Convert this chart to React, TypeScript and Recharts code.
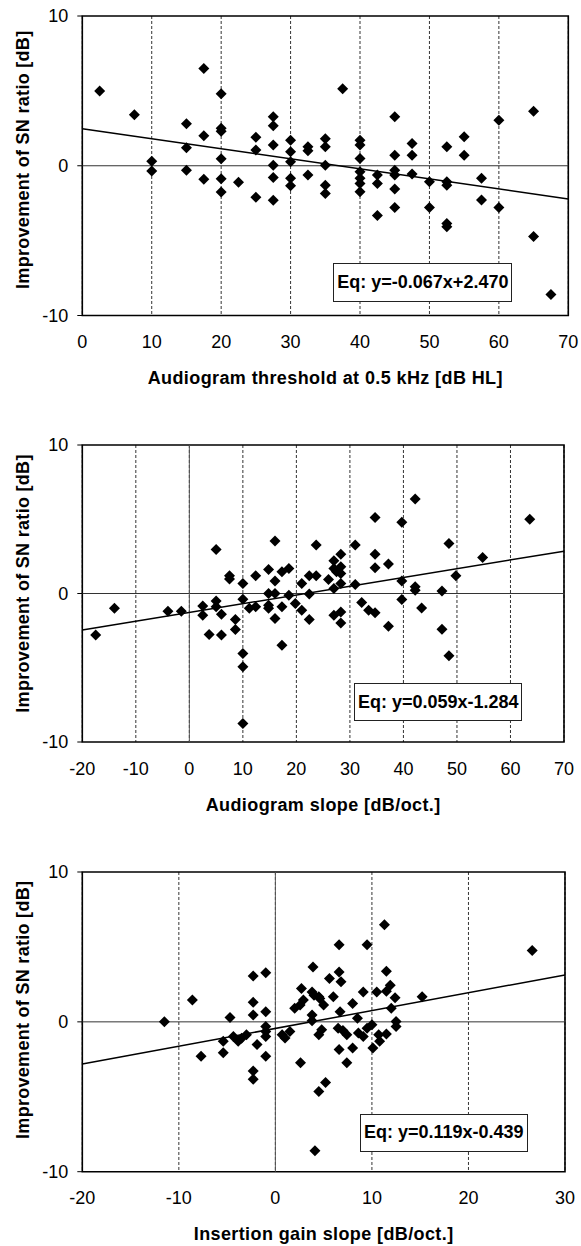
import React from 'react';
import { ComposedChart, Scatter, XAxis, YAxis, CartesianGrid, ReferenceLine, ReferenceArea } from 'recharts';

const FONT = '"Liberation Sans", Arial, Helvetica, sans-serif';

// ---------- Panel 1: Audiogram threshold at 0.5 kHz ----------
const threshX = [2.5, 7.5, 10, 10, 15, 15, 15, 17.5, 17.5, 17.5, 20, 20, 20, 20, 20, 20, 22.5, 25, 25, 25,
  27.5, 27.5, 27.5, 27.5, 27.5, 27.5, 30, 30, 30, 30, 30, 32.5, 32.5, 32.5, 35, 35, 35, 35, 35, 37.5,
  40, 40, 40, 40, 40, 40, 40, 42.5, 42.5, 42.5, 45, 45, 45, 45, 45, 45, 47.5, 47.5, 47.5, 50, 50,
  52.5, 52.5, 52.5, 52.5, 52.5, 55, 55, 57.5, 57.5, 60, 60, 65, 65, 67.5];
const threshY = [5.0, 3.4, 0.3, -0.35, 2.8, 1.2, -0.3, 6.5, 2.0, -0.9, 4.8, 2.5, 2.3, 0.47, -0.87, -1.75, -1.1, 1.9, 1.05, -2.1,
  3.27, 2.67, 1.38, 0.04, -0.78, -2.3, 1.7, 0.93, 0.27, -0.84, -1.33, 1.27, 1.0, -0.62, 1.8, 1.27, 0.04, -1.3, -1.85, 5.15,
  1.7, 1.38, 0.49, -0.4, -0.84, -1.18, -1.73, -0.62, -1.18, -3.33, 3.27, 0.7, -0.3, -0.62, -1.55, -2.78, 1.49, 0.7, -0.55, -1.07, -2.78,
  1.27, -1.07, -1.3, -3.85, -4.07, 1.93, 0.7, -0.84, -2.29, 3.04, -2.78, 3.64, -4.73, -8.6];
const threshTicks = [0, 10, 20, 30, 40, 50, 60, 70];
const threshTrendX = [0, 70];
const threshTrendY = [2.47, -2.22];

// ---------- Panel 2: Audiogram slope ----------
const slopeX = [-17.5, -14, -4, -1.5, 2.5, 2.5, 3.7, 5, 5, 5, 6, 6, 7.5, 7.5, 8.6, 8.6, 10, 10, 10, 10, 10,
  11.2, 12.4, 12.4, 14.8, 14.8, 14.8, 14.8, 16, 16, 16, 16, 17.3, 17.3, 17.3, 18.6, 18.6, 19.8,
  21, 21, 22.4, 22.4, 22.4, 23.7, 23.7, 26, 27, 27, 27.5, 28.3, 28.3, 28.3, 28.3, 27, 27, 28.3, 28.3,
  31, 31, 32.2, 33.5, 34.7, 34.7, 34.7, 34.7, 37.2, 37.2, 39.7, 39.7, 39.7, 42.2, 42.2, 42.2, 43.4,
  47.2, 47.2, 48.5, 48.5, 49.8, 54.8, 63.6];
const slopeY = [-2.8, -1.0, -1.2, -1.2, -0.85, -1.46, -2.76, 2.97, -0.5, -0.9, -1.4, -2.8, 1.19, 0.97, -1.75, -2.43, 0.67, -0.38, -4.04, -4.94, -8.75,
  -1.0, 1.19, -0.9, 1.62, 0, -0.79, -1.0, 3.53, 0.85, 0, -1.69, 1.46, -0.9, -3.48, 1.69, -0.11, -0.67,
  0.67, -1.12, 1.19, -0.04, -1.75, 3.26, 1.19, 0.94, 2.2, 1.69, 1.46, 1.8, 2.65, 1.35, 0.67, 0.34, -1.46, -1.24, -1.98,
  3.26, 0.6, -0.6, -1.12, 5.12, 2.65, 1.73, -1.3, 1.98, -2.2, 4.79, 0.85, -0.4, 6.36, 0.45, 0.22, -0.97,
  0.16, -2.4, 3.37, -4.2, 1.19, 2.43, 5.0];
const slopeTicks = [-20, -10, 0, 10, 20, 30, 40, 50, 60, 70];
const slopeTrendX = [-20, 70];
const slopeTrendY = [-2.46, 2.85];

// ---------- Panel 3: Insertion gain slope ----------
const gainX = [-11.5, -8.6, -7.7, -5.4, -5.4, -4.7, -4.35, -3.85, -3.5, -3.0, -2.3, -2.3, -2.3, -2.3, -2.3, -1.9,
  -1, -1, -1, -1, -1, -1, 0.7, 1, 1.5, 2.0, 2.56, 2.9, 2.7, 2.6, 3.8, 3.9, 3.8, 3.8, 4.0, 4.5, 4.6, 5.0,
  4.5, 4.8, 4.5, 5.2, 5.6, 6.0, 6.6, 6.6, 6.8, 6.7, 6.5, 7.0, 6.6, 7.4, 8.0, 7.4, 8.0, 8.5, 8.6, 9.1, 9.1,
  9.5, 9.5, 10.0, 10.1, 10.5, 10.7, 10.8, 11.3, 11.5, 11.5, 11.5, 11.9, 12.0, 12.4, 12.5, 12.5, 15.2, 26.6, 4.1];
const gainY = [0, 1.45, -2.3, -1.3, -2.07, 0.29, -0.97, -1.3, -1.1, -0.86, 3.06, 1.3, 0.46, -3.28, -3.83, -1.52,
  3.28, 0.68, -0.31, -0.64, -0.97, -2.29, -0.86, -1.08, -0.64, 0.9, 1.12, 1.45, 2.22, -2.73, 2.0, 3.66, 0.46, 0.07, 1.78, 1.67, 1.56, 1.12,
  -0.86, -0.53, -4.65, -4.05, 2.89, 1.67, 5.15, 3.33, 2.67, 0.68, -0.42, -0.57, -1.85, -0.86, -1.74, -2.73, 1.23, 0.24, -0.75, 2.0, -0.97,
  5.15, -0.42, -0.2, -1.74, 2.0, -0.86, -1.3, 6.48, 3.37, -0.81, 2.05, 2.44, 0.9, 1.6, 0.02, -0.31, 1.67, 4.76, -8.6];
const gainTicks = [-20, -10, 0, 10, 20, 30];
const gainTrendX = [-20, 30];
const gainTrendY = [-2.82, 3.13];

const yTicks = [-10, 0, 10];
const yTitle = 'Improvement of SN ratio [dB]';

const zip = (xs: number[], ys: number[]) => xs.map((x, i) => ({ x, y: ys[i] }));

const Diamond = (props: any) => {
  const { cx, cy } = props;
  if (cx == null || cy == null) return <g />;
  const r = 5.5;
  return <path d={`M${cx},${cy - r}L${cx + r},${cy}L${cx},${cy + r}L${cx - r},${cy}Z`} fill="#000" />;
};
const NoShape = () => <g />;

const W = 581;
const PLOT_LEFT = 82.3;
const TOP_PAD = 16;
const BOTTOM_PAD = 76;

type PanelProps = {
  xs: number[]; ys: number[]; trendX: number[]; trendY: number[]; ticks: number[];
  xTitle: string; eq: string;
  plotTop: number; plotBottom: number; plotRight: number;
  eqBox: { left: number; top: number; width: number; height: number };
  yTitleOffset: number; zeroX: boolean;
};

function Panel(p: PanelProps) {
  const plotH = p.plotBottom - p.plotTop;
  const H = TOP_PAD + plotH + BOTTOM_PAD;
  const divTop = p.plotTop - TOP_PAD;
  const xMin = p.ticks[0];
  const xMax = p.ticks[p.ticks.length - 1];
  const pts = zip(p.xs, p.ys);
  const trend = zip(p.trendX, p.trendY);
  const xTitleX = (PLOT_LEFT + p.plotRight) / 2;
  const xTitleY = TOP_PAD + plotH + 68.5;
  const yTitleX = 28.5;
  const yTitleY = TOP_PAD + plotH / 2 + p.yTitleOffset;
  const tickStyle = { fill: '#000', fontSize: 18, fontFamily: FONT };
  return (
    <div style={{ position: 'absolute', left: 0, top: divTop, width: W, height: H }}>
      <ComposedChart width={W} height={H} margin={{ top: TOP_PAD, right: W - p.plotRight, bottom: 0, left: 0 }}>
        <CartesianGrid vertical horizontal={false} stroke="#333" strokeDasharray="3 2" />
        <XAxis
          type="number" dataKey="x" domain={[xMin, xMax]} ticks={p.ticks} interval={0}
          tick={tickStyle} tickLine={false} axisLine={false} tickSize={0} tickMargin={20}
          height={BOTTOM_PAD}
          label={{
            content: () => (
              <text x={xTitleX} y={xTitleY} textAnchor="middle" fontFamily={FONT} fontSize={18}
                fontWeight="bold" letterSpacing={0.4} fill="#000">{p.xTitle}</text>
            ),
          }}
        />
        <YAxis
          type="number" dataKey="y" domain={[-10, 10]} ticks={yTicks} interval={0}
          width={PLOT_LEFT} tick={tickStyle} tickLine={{ stroke: '#000' }} tickSize={5} tickMargin={9}
          axisLine={false}
          label={{
            content: () => (
              <text x={yTitleX} y={yTitleY} textAnchor="middle" fontFamily={FONT} fontSize={18}
                fontWeight="bold" letterSpacing={0.3} fill="#000"
                transform={`rotate(-90 ${yTitleX} ${yTitleY})`}>{yTitle}</text>
            ),
          }}
        />
        <ReferenceLine y={0} stroke="#333" strokeWidth={1} />
        {p.zeroX ? <ReferenceLine x={0} stroke="#555" strokeWidth={1} /> : null}
        <ReferenceArea x1={xMin} x2={xMax} y1={-10} y2={10} fill="none" fillOpacity={0} stroke="#000" strokeWidth={1.6} />
        <Scatter data={trend} line={{ stroke: '#000', strokeWidth: 1.5 }} shape={NoShape} isAnimationActive={false} />
        <Scatter data={pts} shape={Diamond} isAnimationActive={false} />
      </ComposedChart>
      <div
        style={{
          position: 'absolute', left: p.eqBox.left, top: p.eqBox.top - divTop,
          width: p.eqBox.width, height: p.eqBox.height, boxSizing: 'border-box',
          border: '1px solid #222', background: '#fff', fontFamily: FONT, fontWeight: 'bold',
          fontSize: 18, color: '#000', lineHeight: `${p.eqBox.height - 2}px`, paddingLeft: 3,
          whiteSpace: 'nowrap',
        }}
      >
        {p.eq}
      </div>
    </div>
  );
}

export default function App() {
  return (
    <div style={{ position: 'absolute', left: 0, top: 0, width: W, height: 1246, overflow: 'hidden', background: '#fff' }}>
      <Panel xs={threshX} ys={threshY} trendX={threshTrendX} trendY={threshTrendY} ticks={threshTicks}
        xTitle="Audiogram threshold at 0.5 kHz [dB HL]" eq="Eq: y=-0.067x+2.470"
        plotTop={16} plotBottom={315.5} plotRight={568.3}
        eqBox={{ left: 333.3, top: 263.3, width: 178.4, height: 38.4 }} yTitleOffset={-6} zeroX={false} />
      <Panel xs={slopeX} ys={slopeY} trendX={slopeTrendX} trendY={slopeTrendY} ticks={slopeTicks}
        xTitle="Audiogram slope [dB/oct.]" eq="Eq: y=0.059x-1.284"
        plotTop={445} plotBottom={742} plotRight={564}
        eqBox={{ left: 354, top: 682.7, width: 167.7, height: 38 }} yTitleOffset={-10} zeroX={true} />
      <Panel xs={gainX} ys={gainY} trendX={gainTrendX} trendY={gainTrendY} ticks={gainTicks}
        xTitle="Insertion gain slope [dB/oct.]" eq="Eq: y=0.119x-0.439"
        plotTop={872.3} plotBottom={1172} plotRight={565}
        eqBox={{ left: 360, top: 1114, width: 168.3, height: 37.7 }} yTitleOffset={-12} zeroX={true} />
    </div>
  );
}
